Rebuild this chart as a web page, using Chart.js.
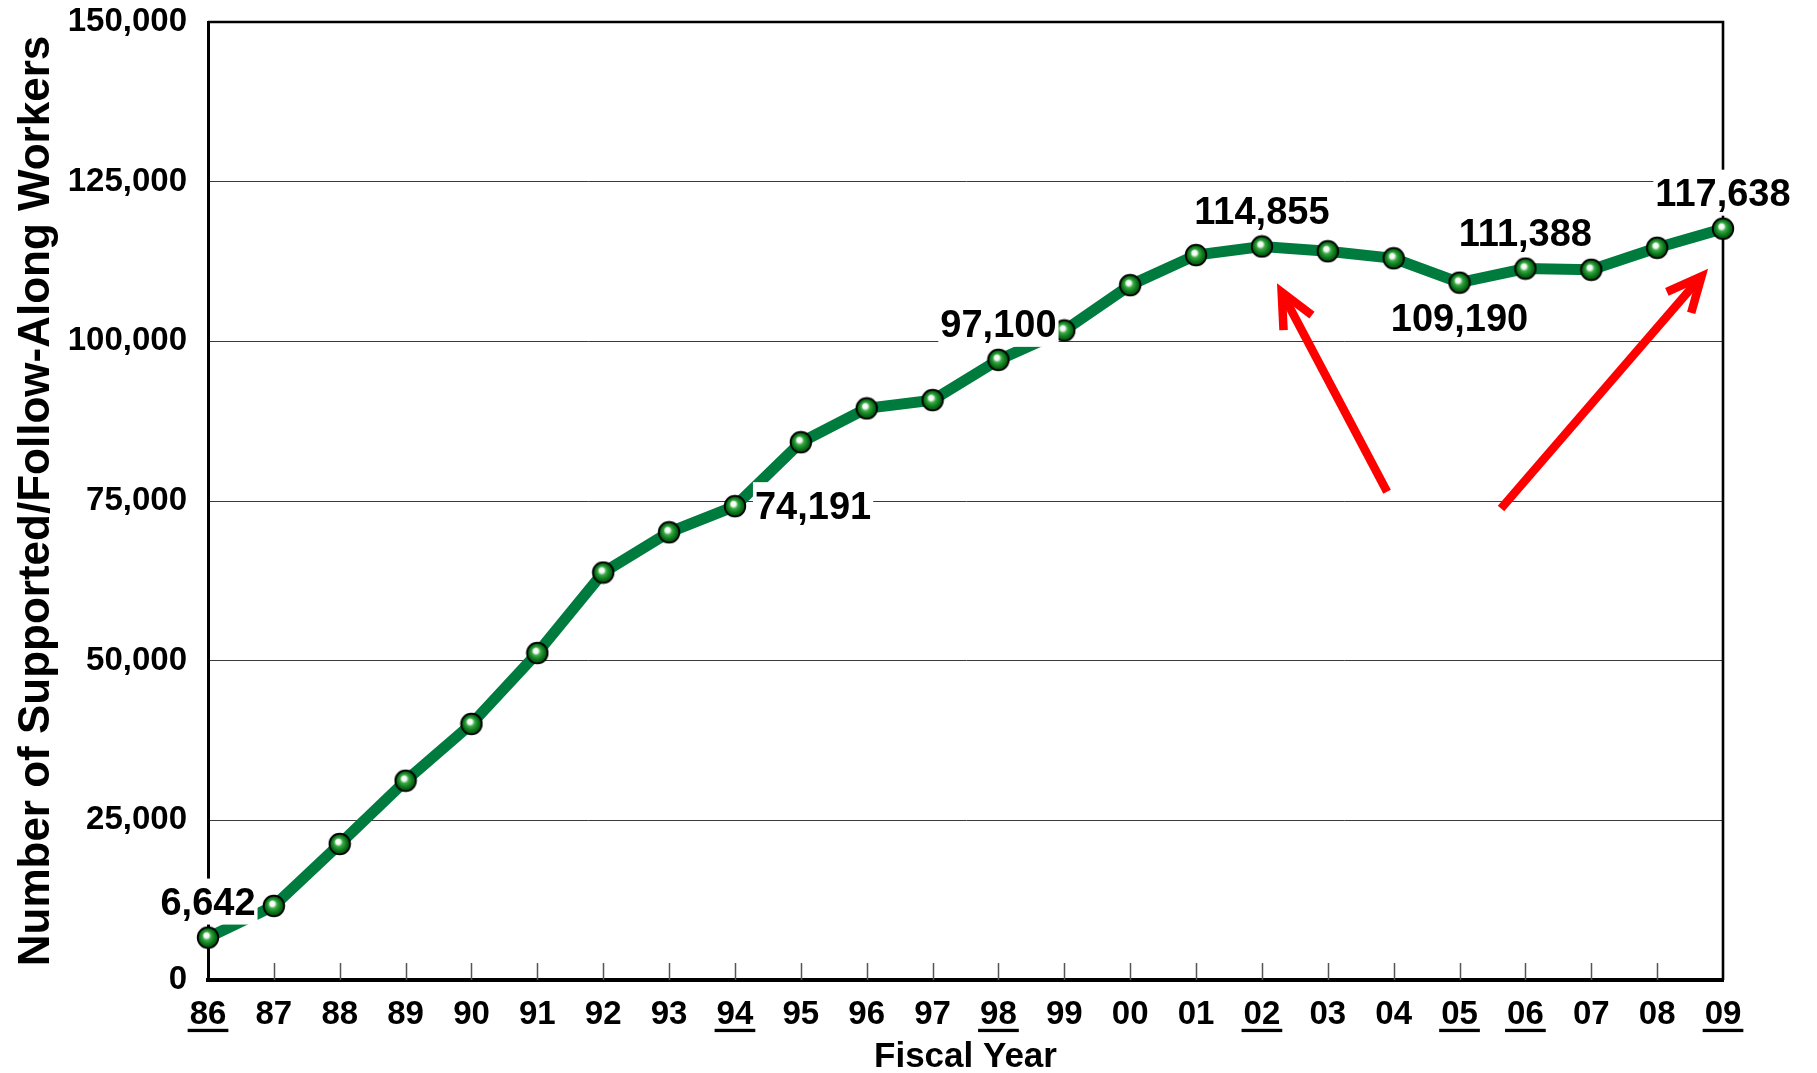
<!DOCTYPE html>
<html>
<head>
<meta charset="utf-8">
<title>Supported/Follow-Along Workers by Fiscal Year</title>
<script src="https://cdn.jsdelivr.net/npm/chart.js@4.4.1/dist/chart.umd.min.js"></script>
<style>
  html, body { margin: 0; padding: 0; background: #ffffff; }
  #wrap { width: 1817px; height: 1073px; position: relative; }
</style>
</head>
<body>
<div id="wrap"><canvas id="chart" width="1817" height="1073"></canvas></div>
<script>
// Fiscal years on the category axis
const fiscalYears = ['86', '87', '88', '89', '90', '91', '92', '93', '94', '95', '96', '97',
                     '98', '99', '00', '01', '02', '03', '04', '05', '06', '07', '08', '09'];

// Number of supported / follow-along workers per fiscal year
const workers = [6642, 11600, 21300, 31200, 40100, 51200, 63800, 70100, 74191, 84200, 89500, 90800,
                 97100, 101700, 108800, 113500, 114855, 114100, 113000, 109190, 111388, 111200, 114650, 117638];

// Value axis tick labels (0 .. 150,000 in steps of 25,000)
const yTickLabels = ['0', '25,000', '50,000', '75,000', '100,000', '125,000', '150,000'];

// Years whose axis label is underlined, and years whose value is printed
const underlinedYears = ['86', '94', '98', '02', '05', '06', '09'];
const labelledYears = ['86', '94', '98', '02', '05', '06', '09'];

// Callout arrows, given in axis units: [category index, workers]
const arrowTails = [[17.90, 76440], [19.63, 73840]];
const arrowHeads = [[16.30, 107700], [22.674, 110190]];

const FONT = '"Liberation Sans", Arial, Helvetica, sans-serif';

// Glossy green ball used as the point marker
function makeMarker(r) {
  const size = Math.ceil(r * 2 + 3);
  const c = document.createElement('canvas');
  c.width = size; c.height = size;
  const g = c.getContext('2d');
  const cx = size / 2, cy = size / 2;
  const grad = g.createRadialGradient(cx - r * 0.2, cy - r * 0.28, 0, cx, cy, r);
  grad.addColorStop(0.0, '#ffffff');
  grad.addColorStop(0.24, '#f2faf2');
  grad.addColorStop(0.42, '#3aa845');
  grad.addColorStop(0.72, '#0c7a1b');
  grad.addColorStop(1.0, '#03470c');
  g.beginPath();
  g.arc(cx, cy, r, 0, Math.PI * 2);
  g.fillStyle = grad;
  g.fill();
  g.lineWidth = 1.8;
  g.strokeStyle = '#000000';
  g.stroke();
  return c;
}
const marker = makeMarker(10.3);

// Top/right frame and the small inward ticks on the category axis
const framePlugin = {
  id: 'frame',
  beforeDatasetsDraw(chart) {
    const { ctx, chartArea: a } = chart;
    const xs = chart.scales.x;
    ctx.save();
    ctx.strokeStyle = '#000000';
    ctx.lineWidth = 2.6;
    ctx.beginPath();
    ctx.moveTo(a.left, a.top);
    ctx.lineTo(a.right, a.top);
    ctx.lineTo(a.right, a.bottom);
    ctx.stroke();
    ctx.strokeStyle = '#555555';
    ctx.lineWidth = 1.5;
    ctx.beginPath();
    for (let i = 1; i < fiscalYears.length - 1; i++) {
      const x = Math.round(xs.getPixelForValue(i)) + 0.5;
      ctx.moveTo(x, a.bottom);
      ctx.lineTo(x, a.bottom - 17);
    }
    ctx.stroke();
    ctx.restore();
  }
};

// Value call-outs, underlined year labels and red arrows
const annotatePlugin = {
  id: 'annotate',
  afterDraw(chart, args, opts) {
    const { ctx } = chart;
    const xs = chart.scales.x, ys = chart.scales.y;
    const pts = chart.getDatasetMeta(0).data;
    ctx.save();

    // printed values on white boxes
    const fs = opts.valueFontSize;
    ctx.font = 'bold ' + fs + 'px ' + FONT;
    ctx.textAlign = 'center';
    ctx.textBaseline = 'alphabetic';
    labelledYears.forEach((yr) => {
      const i = fiscalYears.indexOf(yr);
      const p = pts[i];
      const text = workers[i].toLocaleString('en-US');
      const w = ctx.measureText(text).width;
      const side = opts.sides[yr] || 'above';
      let cx = p.x, cy = p.y - opts.gap;
      if (side === 'below') cy = p.y + opts.gap - 1;
      if (side === 'right') { cx = p.x + 20 + w / 2; cy = p.y - 1; }
      ctx.fillStyle = '#ffffff';
      ctx.fillRect(cx - w / 2 - 2, cy - 23, w + 4, 46);
      ctx.fillStyle = '#000000';
      ctx.fillText(text, cx, cy + 0.358 * fs);
    });

    // underline selected year labels
    const tf = xs.options.ticks.font;
    ctx.font = 'bold ' + tf.size + 'px ' + FONT;
    const labelMid = xs.top + xs.options.ticks.padding + tf.size * 1.2 / 2;
    ctx.fillStyle = '#000000';
    underlinedYears.forEach((yr) => {
      const i = fiscalYears.indexOf(yr);
      const x = xs.getPixelForValue(i);
      const w = ctx.measureText(yr).width;
      ctx.fillRect(x - w / 2 - 2, labelMid + 14, w + 4, 3.3);
    });

    // red arrows
    ctx.strokeStyle = '#ff0000';
    ctx.lineWidth = 8.5;
    arrowTails.forEach((t, k) => {
      const h = arrowHeads[k];
      const x0 = xs.getPixelForValue(t[0]), y0 = ys.getPixelForValue(t[1]);
      const x1 = xs.getPixelForValue(h[0]), y1 = ys.getPixelForValue(h[1]);
      const ang = Math.atan2(y1 - y0, x1 - x0);
      ctx.lineCap = 'butt';
      ctx.lineJoin = 'miter';
      ctx.beginPath();
      ctx.moveTo(x0, y0);
      ctx.lineTo(x1, y1);
      ctx.stroke();
      const L = 38, spread = 25 * Math.PI / 180;
      ctx.beginPath();
      ctx.moveTo(x1 - L * Math.cos(ang - spread), y1 - L * Math.sin(ang - spread));
      ctx.lineTo(x1, y1);
      ctx.lineTo(x1 - L * Math.cos(ang + spread), y1 - L * Math.sin(ang + spread));
      ctx.stroke();
    });
    ctx.restore();
  }
};

new Chart(document.getElementById('chart').getContext('2d'), {
  type: 'line',
  data: {
    labels: fiscalYears,
    datasets: [{
      data: workers,
      borderColor: '#007b3e',
      borderWidth: 11,
      tension: 0,
      fill: false,
      clip: false,
      pointStyle: marker,
      pointRadius: 11,
      pointHoverRadius: 11
    }]
  },
  options: {
    responsive: false,
    animation: false,
    events: [],
    layout: { autoPadding: false, padding: { top: 22, right: 94, bottom: 0, left: 0 } },
    plugins: {
      legend: { display: false },
      tooltip: { enabled: false },
      annotate: { valueFontSize: 38, gap: 36, sides: { '94': 'right', '05': 'below' } }
    },
    scales: {
      x: {
        type: 'category',
        offset: false,
        grid: { display: false, drawTicks: false },
        border: { display: true, color: '#000000', width: 4 },
        ticks: {
          color: '#000000',
          font: { family: FONT, size: 33, weight: 'bold' },
          padding: 15,
          maxRotation: 0,
          autoSkip: false
        },
        title: {
          display: true,
          text: 'Fiscal Year',
          color: '#000000',
          font: { family: FONT, size: 35, weight: 'bold', lineHeight: 0.9 },
          padding: { top: 0, bottom: 0 }
        },
        afterFit(scale) { scale.height = 93; }
      },
      y: {
        min: 0,
        max: 150000,
        grid: { color: '#3a3a3a', lineWidth: 1, drawTicks: false },
        border: { display: true, color: '#000000', width: 3 },
        ticks: {
          stepSize: 25000,
          color: '#000000',
          font: { family: FONT, size: 33, weight: 'bold' },
          padding: 21,
          callback: (v, i) => yTickLabels[i]
        },
        title: {
          display: true,
          text: 'Number of Supported/Follow-Along Workers',
          color: '#000000',
          font: { family: FONT, size: 44, weight: 'bold', lineHeight: 1.2 },
          padding: { top: 10, bottom: 0 }
        },
        afterFit(scale) {
          scale.width = 208;
          scale.paddingTop = 0;
          scale.paddingBottom = 0;
        }
      }
    }
  },
  plugins: [framePlugin, annotatePlugin]
});
</script>
</body>
</html>
